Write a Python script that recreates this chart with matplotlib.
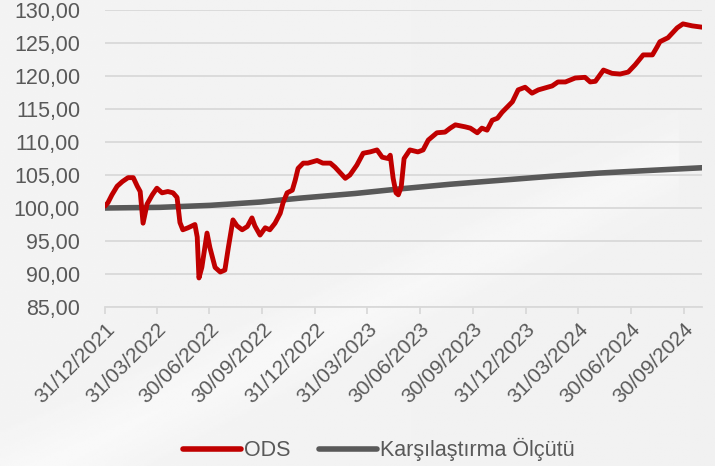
import numpy as np
import pandas as pd
import matplotlib
matplotlib.use("Agg")
from matplotlib import pyplot as plt
import matplotlib.dates as mdates
from matplotlib.ticker import FuncFormatter

plt.rcParams["font.family"] = ["Liberation Sans", "DejaVu Sans"]

# ODS fon verisi (grafikten okunan yaklasik degerler)
ods_dates = [
    "2021-12-31", "2022-01-05", "2022-01-12", "2022-01-21", "2022-01-30", "2022-02-09",
    "2022-02-18", "2022-02-25", "2022-03-02", "2022-03-07", "2022-03-14", "2022-03-23",
    "2022-03-31", "2022-04-09", "2022-04-19", "2022-04-28", "2022-05-05", "2022-05-10",
    "2022-05-15", "2022-05-24", "2022-06-05", "2022-06-09", "2022-06-12", "2022-06-17",
    "2022-06-26", "2022-07-01", "2022-07-10", "2022-07-19", "2022-07-27", "2022-08-02",
    "2022-08-10", "2022-08-17", "2022-08-26", "2022-09-04", "2022-09-12", "2022-09-17",
    "2022-09-26", "2022-10-05", "2022-10-13", "2022-10-22", "2022-10-31", "2022-11-05",
    "2022-11-12", "2022-11-21", "2022-11-26", "2022-12-01", "2022-12-10", "2022-12-18",
    "2023-01-03", "2023-01-13", "2023-01-26", "2023-02-03", "2023-02-21", "2023-03-01",
    "2023-03-13", "2023-03-24", "2023-04-05", "2023-04-17", "2023-04-26", "2023-05-06",
    "2023-05-10", "2023-05-15", "2023-05-20", "2023-05-24", "2023-05-29", "2023-06-03",
    "2023-06-13", "2023-06-27", "2023-07-06", "2023-07-15", "2023-07-30", "2023-08-13",
    "2023-08-22", "2023-08-31", "2023-09-17", "2023-09-26", "2023-10-08", "2023-10-16",
    "2023-10-25", "2023-11-03", "2023-11-12", "2023-11-20", "2023-12-08", "2023-12-18",
    "2023-12-30", "2024-01-11", "2024-01-22", "2024-02-03", "2024-02-15", "2024-02-25",
    "2024-03-09", "2024-03-26", "2024-04-12", "2024-04-21", "2024-04-30", "2024-05-14",
    "2024-05-29", "2024-06-12", "2024-06-26", "2024-07-08", "2024-07-22", "2024-08-07",
    "2024-08-15", "2024-08-20", "2024-09-03", "2024-09-19", "2024-09-29", "2024-10-15",
    "2024-11-01",
]
ods_values = [
    100.3, 100.8, 102.0, 103.3, 104.0, 104.6,
    104.6, 103.3, 102.5, 97.7, 100.6, 102.0,
    103.0, 102.3, 102.5, 102.3, 101.6, 97.8,
    96.7, 97.0, 97.5, 95.6, 89.4, 91.0,
    96.2, 94.0, 91.0, 90.3, 90.6, 94.0,
    98.2, 97.3, 96.7, 97.2, 98.5, 97.3,
    95.9, 97.0, 96.7, 97.7, 99.2, 100.8,
    102.3, 102.7, 104.2, 106.0, 106.8, 106.8,
    107.2, 106.8, 106.8, 106.2, 104.5, 105.0,
    106.5, 108.3, 108.5, 108.8, 107.7, 107.5,
    108.0, 104.5, 102.3, 102.0, 103.2, 107.5,
    108.8, 108.5, 108.8, 110.3, 111.4, 111.5,
    112.1, 112.6, 112.3, 112.1, 111.4, 112.1,
    111.8, 113.3, 113.6, 114.5, 116.1, 117.9,
    118.3, 117.4, 117.9, 118.2, 118.5, 119.1,
    119.1, 119.7, 119.8, 119.1, 119.2, 120.9,
    120.4, 120.3, 120.6, 121.7, 123.2, 123.2,
    124.4, 125.2, 125.8, 127.3, 127.9, 127.6,
    127.4,
]

# Karsilastirma olcutu
bm_dates = [
    "2021-12-31", "2022-04-05", "2022-07-01", "2022-09-26", "2022-12-05", "2023-03-10",
    "2023-05-27", "2023-08-22", "2023-11-17", "2024-02-12", "2024-05-08", "2024-08-03",
    "2024-11-01",
]
bm_values = [100.0, 100.1, 100.4, 100.9, 101.5, 102.2, 102.9, 103.6, 104.2, 104.8, 105.3, 105.7, 106.1]

tick_dates = [
    "2021-12-31", "2022-03-31", "2022-06-30", "2022-09-30", "2022-12-31", "2023-03-31",
    "2023-06-30", "2023-09-30", "2023-12-31", "2024-03-31", "2024-06-30", "2024-09-30",
]
y_ticks = [85, 90, 95, 100, 105, 110, 115, 120, 125, 130]

ods_x = pd.to_datetime(ods_dates)
bm_x = pd.to_datetime(bm_dates)
ticks_x = pd.to_datetime(tick_dates)

fig = plt.figure(figsize=(7.15, 4.66), dpi=100)
fig.patch.set_facecolor("#f2f2f3")

# arka plan: hafif gri gecis ve beyazimsi capraz bant
bg = fig.add_axes([0, 0, 1, 1], zorder=0)
gx, gy = np.meshgrid(np.linspace(0, 1, 300), np.linspace(0, 1, 200))
d = gy - (0.75 * gx - 0.05)
shade = 0.955 + 0.02 * np.exp(-(d / 0.08) ** 2) * (gx < 0.95) - 0.01 * gx
bg.imshow(shade, cmap="gray", vmin=0, vmax=1, extent=[0, 1, 0, 1],
          origin="lower", aspect="auto")
bg.axis("off")

ax = fig.add_axes([0.1469, 0.3412, 0.8349, 0.6373], zorder=1)
ax.patch.set_alpha(0)

ax.plot(bm_x, bm_values, color="#595959", lw=4.0, solid_capstyle="round",
        label="Karşılaştırma Ölçütü", zorder=3)
ax.plot(ods_x, ods_values, color="#c00000", lw=3.5, solid_joinstyle="round",
        solid_capstyle="round", label="ODS", zorder=4)

ax.set_ylim(85, 130)
ax.set_yticks(y_ticks)
ax.yaxis.set_major_formatter(FuncFormatter(lambda v, p: f"{v:.2f}".replace(".", ",")))
ax.set_xlim(ods_x[0], ods_x[-1])
ax.set_xticks(ticks_x)
ax.xaxis.set_major_formatter(mdates.DateFormatter("%d/%m/%Y"))

ax.grid(axis="y", color="#d9d9d9", lw=1.3)
ax.set_axisbelow(True)
for s in ["top", "right", "left"]:
    ax.spines[s].set_visible(False)
ax.spines["bottom"].set_color("#d9d9d9")
ax.spines["bottom"].set_linewidth(1.3)
ax.tick_params(axis="y", length=0, pad=18, labelsize=15.5, labelcolor="#595959")
ax.tick_params(axis="x", length=5, width=1.3, color="#d9d9d9", pad=4,
               labelsize=15, labelcolor="#595959")
plt.setp(ax.get_xticklabels(), rotation=45, ha="right", rotation_mode="anchor")

handles, labels = ax.get_legend_handles_labels()
leg = fig.legend(handles[::-1], labels[::-1], loc="center", bbox_to_anchor=(0.53, 0.035),
                 ncol=2, frameon=False, fontsize=15.5, handlelength=2.7,
                 handletextpad=0.15, columnspacing=1.3, labelcolor="#595959")
for line in leg.get_lines():
    line.set_linewidth(4.0)

fig.savefig("out.png", dpi=100, facecolor=fig.get_facecolor())
